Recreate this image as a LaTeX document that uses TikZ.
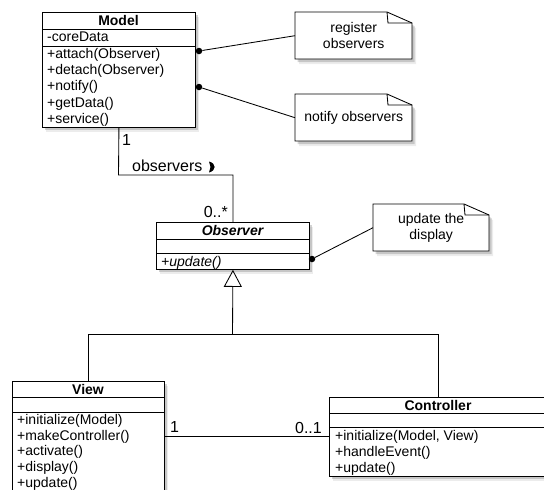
\documentclass[tikz,border=0pt]{standalone}
\usepackage{fontspec}
\setmainfont{Liberation Sans}
\usetikzlibrary{shadows,arrows.meta,calc}
\begin{document}
\begin{tikzpicture}[x=1pt,y=-1pt,
  every node/.style={font=\fontsize{14}{16}\selectfont},
  softshadow/.style={drop shadow={shadow xshift=4pt,shadow yshift=-5pt,opacity=0.15},
                     drop shadow={shadow xshift=2.5pt,shadow yshift=-3pt,opacity=0.35}},
  classbox/.style={draw,line width=0.85pt,fill=white,inner sep=0pt,anchor=north west,softshadow},
  notepath/.style={draw,line width=0.85pt,fill=white,softshadow},
  notebox/.style={inner sep=0pt,anchor=north west,align=center,minimum width=117pt,minimum height=47pt},
  mem/.style={anchor=base west,inner sep=0pt},
  ttl/.style={anchor=base,inner sep=0pt,font=\fontsize{14}{16}\selectfont\bfseries},
  lblw/.style={anchor=base west,inner sep=0pt,font=\fontsize{16}{18}\selectfont},
  lble/.style={anchor=base east,inner sep=0pt,font=\fontsize{16}{18}\selectfont},
  anchordot/.style={circle,fill=black,inner sep=0pt,minimum size=6.5pt},
  conn/.style={line width=0.85pt},
]
\useasboundingbox (0,0) rectangle (544,490);
\clip (0,0) rectangle (544,490);

% ---------- notes (outlines) ----------
\coordinate (n1) at (295,12);
\coordinate (n2) at (295,94);
\coordinate (n3) at (373,204);
\foreach \n/\w in {n1/117,n2/117,n3/116}{
  \draw[notepath] (\n) -- ($(\n)+(\w-25,0)$) -- ($(\n)+(\w,11)$) -- ($(\n)+(\w,47)$) -- ($(\n)+(0,47)$) -- cycle;
  \draw[conn] ($(\n)+(\w-25,0)$) -- ($(\n)+(\w-24,11)$) -- ($(\n)+(\w,11)$);
}
\node[notebox] (note1) at (n1) {register\\observers};
\node[notebox] (note2) at (n2) {notify observers};
\node[notebox,minimum width=116pt] (note3) at (n3) {update the\\display};

% ---------- Model ----------
\node[classbox,minimum width=153pt,minimum height=115pt] (model) at (42,12) {};
\draw[conn] ([yshift=-17pt]model.north west) -- ([yshift=-17pt]model.north east);
\draw[conn] ([yshift=-34pt]model.north west) -- ([yshift=-34pt]model.north east);
\node[ttl] (mt) at (118.5,25.5) {Model};
\node[mem] (ma) at (47,41.5) {-coreData};
\node[mem] (m1) at (47,58.5) {+attach(Observer)};
\node[mem] (m2) at (47,74.7) {+detach(Observer)};
\node[mem] (m3) at (47,90.9) {+notify()};
\node[mem] (m4) at (47,107.1) {+getData()};
\node[mem] (m5) at (47,123.3) {+service()};

% ---------- Observer ----------
\node[classbox,minimum width=153pt,minimum height=47pt] (observer) at (156,222) {};
\draw[conn] ([yshift=-17pt]observer.north west) -- ([yshift=-17pt]observer.north east);
\draw[conn] ([yshift=-31pt]observer.north west) -- ([yshift=-31pt]observer.north east);
\node[ttl,font=\fontsize{14}{16}\selectfont\bfseries\itshape] (ot) at (232.5,235.5) {Observer};
\node[mem,font=\fontsize{14}{16}\selectfont\itshape] (o1) at (161,266) {+update()};

% ---------- View ----------
\node[classbox,minimum width=152pt,minimum height=125pt] (view) at (12,381) {};
\draw[conn] ([yshift=-16pt]view.north west) -- ([yshift=-16pt]view.north east);
\draw[conn] ([yshift=-31pt]view.north west) -- ([yshift=-31pt]view.north east);
\node[ttl] (vt) at (88,394) {View};
\node[mem] (v1) at (17,424.3) {+initialize(Model)};
\node[mem] (v2) at (17,440.1) {+makeController()};
\node[mem] (v3) at (17,455.9) {+activate()};
\node[mem] (v4) at (17,471.7) {+display()};
\node[mem] (v5) at (17,487.3) {+update()};

% ---------- Controller ----------
\node[classbox,minimum width=218pt,minimum height=79pt] (controller) at (329,397) {};
\draw[conn] ([yshift=-16pt]controller.north west) -- ([yshift=-16pt]controller.north east);
\draw[conn] ([yshift=-30pt]controller.north west) -- ([yshift=-30pt]controller.north east);
\node[ttl] (ct) at (438,410) {Controller};
\node[mem] (c1) at (335,440.5) {+initialize(Model, View)};
\node[mem] (c2) at (335,456.7) {+handleEvent()};
\node[mem] (c3) at (335,472.7) {+update()};

% ---------- association Model -- Observer ----------
\coordinate (bend) at (118.5,175);
\draw[conn] (model.south) -- (bend) -| (observer.north);
\node[lblw] (l1) at (122,145) {1};
\node[lblw] (lobs) at (132,171) {observers};
\fill (209,161.5) .. controls (216.5,163.5) and (216.5,170.5) .. (209,172.5) -- (210.5,167) -- cycle;
\node[lble] (l0s) at (228,217) {0..*};

% ---------- generalization ----------
\coordinate (hub) at (232.5,334);
\draw[conn] (view.north) |- (hub);
\draw[conn] (controller.north) |- (hub);
\draw[conn,-{Triangle[open,length=17pt,width=18pt]}] (hub) -- (observer.south);

% ---------- association View -- Controller ----------
\draw[conn] ([yshift=-55pt]view.north east) -- ([yshift=-39pt]controller.north west);
\node[lblw] (lv1) at (170,432.5) {1};
\node[lble] (lc01) at (322,433.5) {0..1};

% ---------- note attachments ----------
\node[anchordot] (d1) at (199,51) {};
\node[anchordot] (d2) at (199,87) {};
\node[anchordot] (d3) at (312,259) {};
\draw[conn] (d1) -- (note1.west);
\draw[conn] (d2) -- (note2.west);
\draw[conn] (d3) -- (note3.west);
\end{tikzpicture}
\end{document}
